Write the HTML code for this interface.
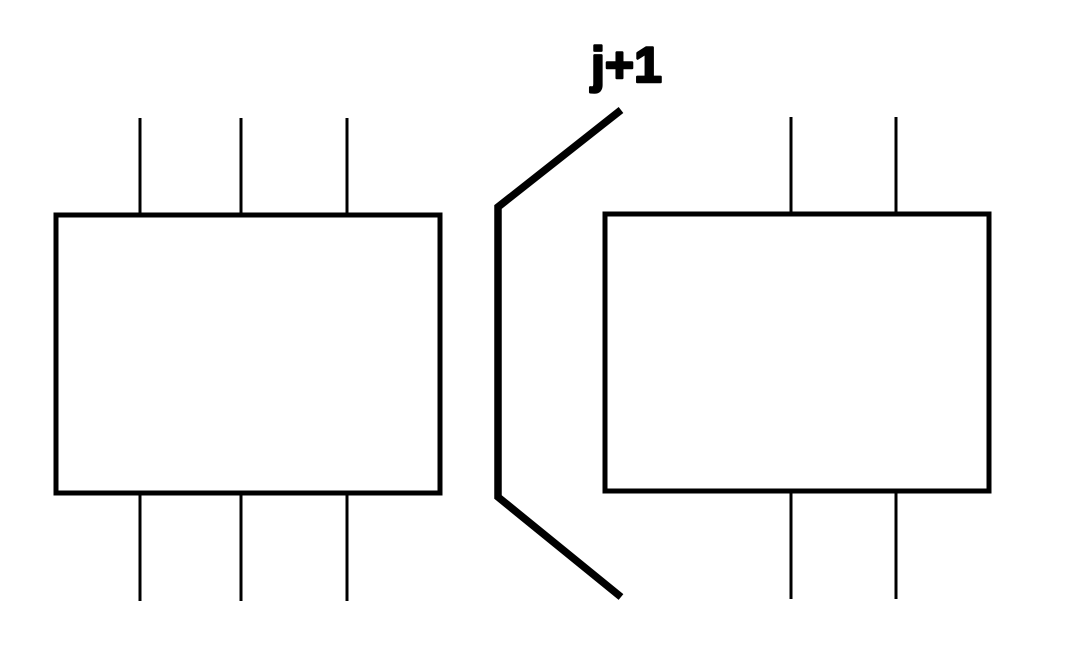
<!DOCTYPE html>
<html><head><meta charset="utf-8"><style>body{margin:0;background:#fff}svg{display:block}</style></head>
<body>
<svg width="1065" height="671" viewBox="0 0 1065 671">
<g stroke="#000" fill="none">
<rect x="56" y="215" width="384" height="278" stroke-width="5"/>
<g stroke-width="3">
<line x1="140" y1="118" x2="140" y2="215"/><line x1="241" y1="118" x2="241" y2="215"/><line x1="347" y1="118" x2="347" y2="215"/>
</g>
<g stroke-width="3">
<line x1="140" y1="493" x2="140" y2="601"/><line x1="241" y1="493" x2="241" y2="601"/><line x1="347" y1="493" x2="347" y2="601"/>
</g>
<rect x="605" y="214" width="384" height="277" stroke-width="5"/>
<g stroke-width="3">
<line x1="791" y1="117" x2="791" y2="214"/><line x1="896" y1="117" x2="896" y2="214"/>
</g>
<g stroke-width="3">
<line x1="791" y1="491" x2="791" y2="599"/><line x1="896" y1="491" x2="896" y2="599"/>
</g>
<polyline points="621,110 498,207 498,497 621,597" stroke-width="7.5"/>
</g>
<text x="591" y="82" font-family="Liberation Sans, sans-serif" font-weight="bold" font-size="50" fill="#000" stroke="#000" stroke-width="2.5" stroke-linejoin="round">j+1</text>
</svg>
</body></html>
